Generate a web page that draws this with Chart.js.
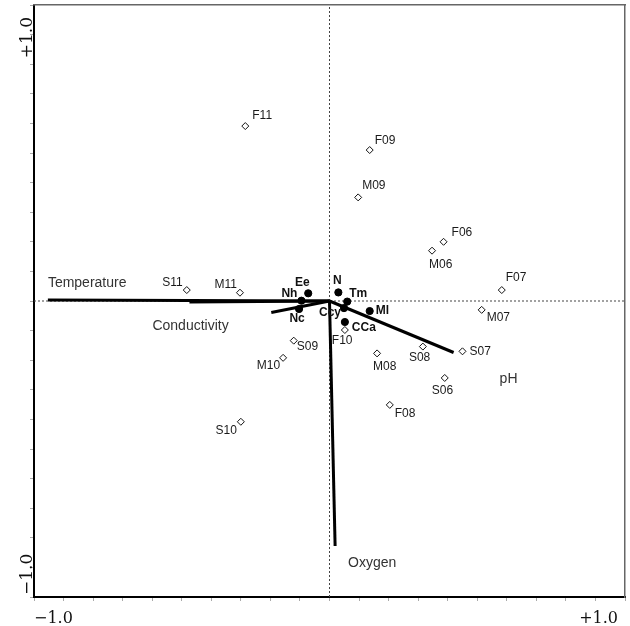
<!DOCTYPE html>
<html><head><meta charset="utf-8">
<script src="https://cdn.jsdelivr.net/npm/chart.js@4.4.0/dist/chart.umd.min.js"></script>
<style>html,body{margin:0;padding:0;background:#fff;}canvas{display:block;}</style>
</head><body>
<canvas id="c" width="630" height="626"></canvas>
<script>
// ---- data ----
const siteNames = ['F11','F09','M09','F06','M06','F07','M07','S07','S08','M08','S06','F08','F10','S09','M10','S10','S11','M11'];
const siteX = [-0.285,0.136,0.097,0.386,0.347,0.583,0.515,0.450,0.316,0.161,0.390,0.204,0.052,-0.121,-0.157,-0.300,-0.483,-0.303];
const siteY = [0.591,0.510,0.350,0.200,0.170,0.037,-0.030,-0.170,-0.154,-0.177,-0.260,-0.351,-0.098,-0.134,-0.192,-0.408,0.037,0.028];
const speciesNames = ['Ee','N','Tm','Ml','CCa','Ccy','Nh','Nc'];
const speciesX = [-0.072,0.030,0.060,0.136,0.052,0.049,-0.095,-0.103];
const speciesY = [0.026,0.029,-0.002,-0.034,-0.071,-0.024,0.001,-0.027];
const envNames = ['Temperature','Conductivity','pH','Oxygen',''];
const envX = [-0.953,-0.474,0.420,0.019,-0.197];
const envY = [0.003,-0.003,-0.174,-0.828,-0.039];
const axisMin = -1.0, axisMax = 1.0;
const axisTickLabels = ['\u22121.0','+1.0'];

// ---- label layout (pixel offsets from the mark, alignment) ----
const siteLabelLayout = {
  F11:[7,-10,'left'], F09:[5,-9,'left'], M09:[4,-12,'left'], F06:[8,-9,'left'], M06:[-3,14,'left'],
  F07:[4,-12,'left'], M07:[5,8,'left'], S07:[7,0,'left'], S08:[-14,11,'left'], M08:[-4,13,'left'],
  S06:[-13,13,'left'], F08:[5,9,'left'], F10:[-13,11,'left'], S09:[3,6,'left'], M10:[-3,8,'right'],
  S10:[-4,9,'right'], S11:[-4,-7,'right'], M11:[-3,-8,'right']
};
const speciesLabelLayout = {
  Ee:[-6,-11,'center'], N:[-1,-12,'center'], Tm:[2,-8,'left'], Ml:[6,0,'left'],
  CCa:[7,6,'left'], Ccy:[-3,5,'right'], Nh:[-4,-7,'right'], Nc:[-2,10,'center']
};
const envLabelLayout = {
  Temperature:[0,-17,'left'], Conductivity:[-37,24,'left'], pH:[46,27,'left'], Oxygen:[13,17,'left']
};

const datasets = [];
datasets.push({type:'line', data:[{x:axisMin,y:0},{x:axisMax,y:0}], borderColor:'#444', borderWidth:1, borderDash:[2,2], pointRadius:0, fill:false, order:5});
datasets.push({type:'line', data:[{x:0,y:axisMin},{x:0,y:axisMax}], borderColor:'#444', borderWidth:1, borderDash:[2,2], pointRadius:0, fill:false, order:5});
envNames.forEach((n,i)=>{
  datasets.push({type:'line', label:n, data:[{x:0,y:0},{x:envX[i],y:envY[i]}], borderColor:'#000', borderWidth:3, borderCapStyle:'butt', pointRadius:0, fill:false, order:3});
});
datasets.push({type:'scatter', label:'sites', data:siteX.map((v,i)=>({x:v,y:siteY[i]})), pointStyle:'rectRot', pointRadius:3.5, backgroundColor:'#fff', borderColor:'#111', borderWidth:1, order:1});
datasets.push({type:'scatter', label:'species', data:speciesX.map((v,i)=>({x:v,y:speciesY[i]})), pointStyle:'circle', pointRadius:3.6, backgroundColor:'#000', borderColor:'#000', borderWidth:1, order:0});

const labelPlugin = {
  id:'labels',
  afterDatasetsDraw(chart){
    const {ctx, scales:{x, y}} = chart;
    ctx.save();
    ctx.textBaseline = 'middle';
    const groups = [
      {names:siteNames, xs:siteX, ys:siteY, lay:siteLabelLayout, font:'12px "Liberation Sans", Arial, sans-serif', color:'#1a1a1a'},
      {names:speciesNames, xs:speciesX, ys:speciesY, lay:speciesLabelLayout, font:'bold 12px "Liberation Sans", Arial, sans-serif', color:'#111'},
      {names:envNames, xs:envX, ys:envY, lay:envLabelLayout, font:'14px "Liberation Sans", Arial, sans-serif', color:'#333'}
    ];
    groups.forEach(g=>{
      ctx.font = g.font; ctx.fillStyle = g.color;
      g.names.forEach((n,i)=>{
        const o = g.lay[n];
        if(!n || !o) return;
        ctx.textAlign = o[2];
        ctx.fillText(n, x.getPixelForValue(g.xs[i]) + o[0], y.getPixelForValue(g.ys[i]) + o[1]);
      });
    });
    // axis end labels
    ctx.fillStyle = '#111';
    ctx.font = '16px "DejaVu Serif", serif';
    ctx.textBaseline = 'alphabetic';
    ctx.textAlign = 'left';
    ctx.fillText(axisTickLabels[0], x.getPixelForValue(axisMin), 623);
    ctx.textAlign = 'right';
    ctx.fillText(axisTickLabels[1], x.getPixelForValue(axisMax) - 7, 623);
    ctx.font = '17px "DejaVu Serif", serif';
    ctx.save();
    ctx.translate(32, y.getPixelForValue(axisMin) - 2);
    ctx.rotate(-Math.PI/2);
    ctx.textAlign = 'left';
    ctx.fillText(axisTickLabels[0], 0, 0);
    ctx.restore();
    ctx.save();
    ctx.translate(32, y.getPixelForValue(axisMax) + 12);
    ctx.rotate(-Math.PI/2);
    ctx.textAlign = 'right';
    ctx.fillText(axisTickLabels[1], 0, 0);
    ctx.restore();
    ctx.restore();
  }
};

const mainAxis = (pos, fit) => ({
  type:'linear', position:pos, min:axisMin, max:axisMax,
  ticks:{display:false, stepSize:0.1},
  grid:{display:true, drawOnChartArea:false, drawTicks:true, tickLength:4, tickColor:'#aaa', tickWidth:1},
  border:{display:true, color:'#000', width:2},
  afterFit: fit
});
const sideAxis = (pos, fit) => ({
  type:'linear', position:pos, min:axisMin, max:axisMax,
  ticks:{display:false},
  grid:{display:false},
  border:{display:true, color:'#666', width:1.5},
  afterFit: fit
});

new Chart(document.getElementById('c'), {
  type:'scatter',
  data:{datasets},
  options:{
    responsive:false, animation:false,
    layout:{padding:{top:5, right:3, left:0, bottom:0}},
    plugins:{legend:{display:false}, tooltip:{enabled:false}},
    scales:{
      x: mainAxis('bottom', s=>{s.height=29;}),
      y: mainAxis('left', s=>{s.width=34;}),
      x2: sideAxis('top', s=>{s.height=0;}),
      y2: sideAxis('right', s=>{s.width=0;})
    }
  },
  plugins:[labelPlugin]
});
</script>
</body></html>
